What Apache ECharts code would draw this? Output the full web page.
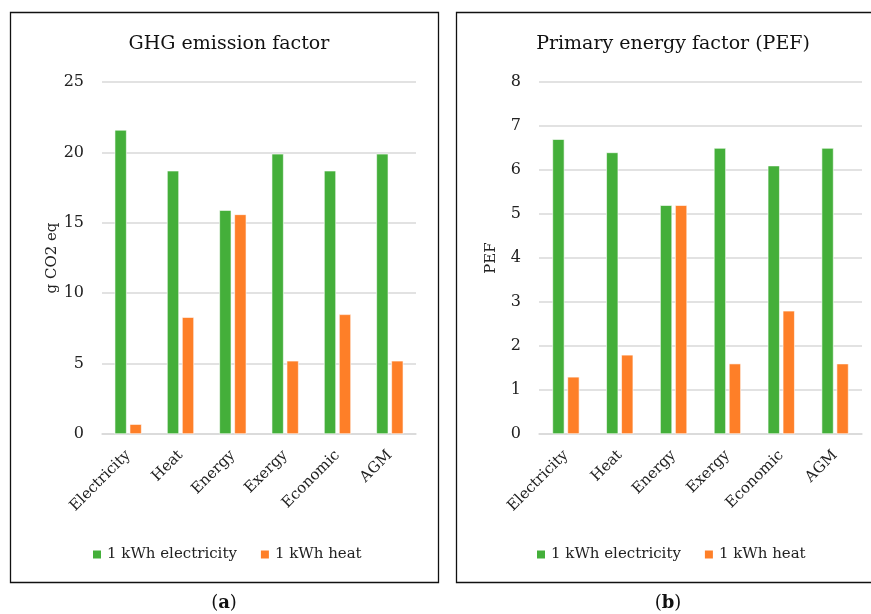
<!DOCTYPE html>
<html>
<head>
<meta charset="utf-8">
<script src="https://cdn.jsdelivr.net/npm/echarts@6/dist/echarts.min.js"></script>
<style>
  html, body { margin: 0; padding: 0; background: #fff; }
  #chart { width: 871px; height: 614px; }
</style>
</head>
<body>
<div id="chart"></div>
<script>
// categories shared by both panels
const categories = ['Electricity', 'Heat', 'Energy', 'Exergy', 'Economic', 'AGM']
const seriesNames = ['1 kWh electricity', '1 kWh heat']

// (a) GHG emission factor, g CO2 eq
const ghgElectricity = [21.6, 18.7, 15.9, 19.9, 18.7, 19.9]
const ghgHeat = [0.7, 8.3, 15.6, 5.2, 8.5, 5.2]

// (b) primary energy factor
const pefElectricity = [6.7, 6.4, 5.2, 6.5, 6.1, 6.5]
const pefHeat = [1.3, 1.8, 5.2, 1.6, 2.8, 1.6]

const FONT = 'DejaVu Serif'
const GREEN = '#44AF3A'
const ORANGE = '#FE7F28'

const chart = echarts.init(document.getElementById('chart'))

// 坐标轴的公共配置
function xAxisFor(gridIndex) {
  return {
    type: 'category',
    gridIndex: gridIndex,
    data: categories,
    axisLine: { lineStyle: { color: '#d9d9d9', width: 1.5 } },
    axisTick: { show: false },
    axisLabel: { rotate: 45, color: '#222', fontFamily: FONT, fontSize: 15, margin: 19 }
  }
}
function yAxisFor(gridIndex, max, interval, name) {
  return {
    type: 'value',
    gridIndex: gridIndex,
    min: 0,
    max: max,
    interval: interval,
    name: name,
    nameLocation: 'middle',
    nameGap: 0,
    nameTextStyle: { color: '#222', fontFamily: FONT, fontSize: 15 },
    axisLine: { show: false },
    axisTick: { show: false },
    splitLine: { lineStyle: { color: '#d9d9d9', width: 1.5 } },
    axisLabel: { color: '#222', fontFamily: FONT, fontSize: 16, margin: 18 }
  }
}
function barSeries(name, data, color, idx) {
  return {
    type: 'bar',
    name: name,
    data: data,
    xAxisIndex: idx,
    yAxisIndex: idx,
    barWidth: 12,
    barGap: '25%',
    itemStyle: { color: color, borderColor: '#fff', borderWidth: 0.6 }
  }
}

const option = {
  animation: false,
  textStyle: { fontFamily: FONT },
  title: [
    { text: 'GHG emission factor', left: 224, top: 30, textAlign: 'center',
      textStyle: { fontFamily: FONT, fontSize: 19, fontWeight: 'normal', color: '#111' } },
    { text: 'Primary energy factor (PEF)', left: 668, top: 30, textAlign: 'center',
      textStyle: { fontFamily: FONT, fontSize: 19, fontWeight: 'normal', color: '#111' } }
  ],
  legend: [
    { data: seriesNames, left: 86, top: 542, itemWidth: 10, itemHeight: 10, itemGap: 22,
      icon: 'rect', textStyle: { fontFamily: FONT, fontSize: 15, color: '#222' } },
    { data: seriesNames, left: 530, top: 542, itemWidth: 10, itemHeight: 10, itemGap: 22,
      icon: 'rect', textStyle: { fontFamily: FONT, fontSize: 15, color: '#222' } }
  ],
  grid: [
    { left: 102, right: 871 - 416, top: 82, height: 352 },
    { left: 539, right: 9, top: 82, height: 352 }
  ],
  xAxis: [xAxisFor(0), xAxisFor(1)],
  yAxis: [
    Object.assign(yAxisFor(0, 25, 5, 'g CO2 eq'), { nameGap: 20 }),
    Object.assign(yAxisFor(1, 8, 1, 'PEF'), { nameGap: 40 })
  ],
  series: [
    barSeries(seriesNames[0], ghgElectricity, GREEN, 0),
    barSeries(seriesNames[1], ghgHeat, ORANGE, 0),
    barSeries(seriesNames[0], pefElectricity, GREEN, 1),
    barSeries(seriesNames[1], pefHeat, ORANGE, 1)
  ],
  graphic: [
    { type: 'rect', shape: { x: 10.5, y: 12.5, width: 428, height: 570 },
      style: { fill: null, stroke: '#111', lineWidth: 1.3 } },
    { type: 'rect', shape: { x: 456.5, y: 12.5, width: 430, height: 570 },
      style: { fill: null, stroke: '#111', lineWidth: 1.3 } },
    { type: 'text', x: 224, y: 594,
      style: { text: '({a|a})', fill: '#111', font: '18px "DejaVu Serif"', align: 'center',
        rich: { a: { fontWeight: 'bold', fontSize: 18, fontFamily: FONT } } } },
    { type: 'text', x: 668, y: 594,
      style: { text: '({a|b})', fill: '#111', font: '18px "DejaVu Serif"', align: 'center',
        rich: { a: { fontWeight: 'bold', fontSize: 18, fontFamily: FONT } } } }
  ]
}
chart.setOption(option)
</script>
</body>
</html>
